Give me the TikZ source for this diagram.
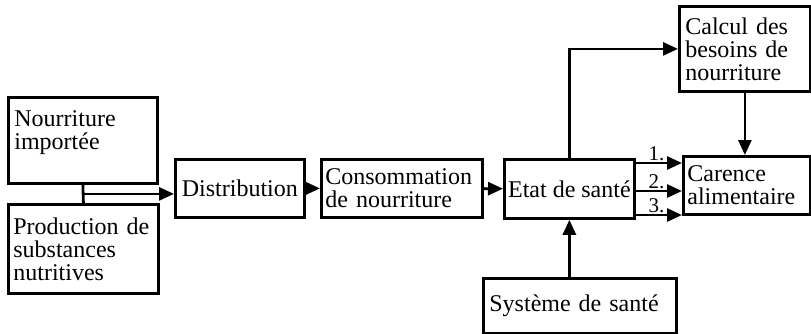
\documentclass[tikz,border=0pt]{standalone}
\usepackage{fontspec}
\setmainfont{Liberation Serif}
\usetikzlibrary{arrows.meta, calc}

\begin{document}
\begin{tikzpicture}[x=1pt, y=1pt,
        box/.style={draw, line width=1.4pt, align=left, anchor=north west,
            inner xsep=3pt, inner ysep=2pt, font=\fontsize{12}{11.5}\selectfont},
        arr/.style={line width=1.4pt, -{Triangle[length=7.5pt, width=6.5pt]}},
        num/.style={above, inner sep=0.5pt, font=\fontsize{10.5}{10.5}\selectfont}]
    \useasboundingbox (0,0) rectangle (405.5,-166.5);

    \node[box, text width=68.5pt, minimum height=43pt, text depth=22pt] (imp) at (3.5,-48) {Nourriture\\importée};
    \node[box, text width=70pt, inner xsep=2.5pt, minimum height=44.5pt] (prod) at (3.5,-101.5) {Production de\\substances\\nutritives};
    \node[box, inner xsep=1pt, minimum width=64.5pt, minimum height=29pt] (dist) at (87,-79) {Distribution};
    \node[box, text width=76.5pt, inner xsep=2pt, minimum height=29pt] (cons) at (160,-79) {Consommation\\de nourriture};
    \node[box, inner xsep=1pt, minimum width=65pt, minimum height=29.5pt] (etat) at (251.5,-79) {Etat de santé};
    \node[box, text width=90.5pt, minimum height=27.5pt] (sys) at (241,-138.5) {Système de santé};
    \node[box, text width=59.5pt, minimum height=42.5pt] (calc) at (339,-2.5) {Calcul des\\besoins de\\nourriture};
    \node[box, text width=59.5pt, inner xsep=2pt, minimum height=29pt] (car) at (341,-77.5) {Carence\\alimentaire};

    % les deux sources se rejoignent avant la distribution
    \coordinate (j) at ($(imp.south)!0.5!(prod.north)$);
    \draw[line width=1.4pt] (imp.south) -- (prod.north);
    \draw[arr] (j) -- (j -| dist.west);

    \draw[arr] (dist) -- (cons);
    \draw[arr] (cons) -- (etat);
    \draw[arr] (etat.north) |- (calc.west);
    \draw[arr] (calc.south) -- (calc.south |- car.north);
    \draw[arr] (etat.south |- sys.north) -- (etat.south);

    \draw[arr] (etat.east |- 0,-81.5) -- (car.west |- 0,-81.5) node[num, pos=0.45] {1.};
    \draw[arr] (etat.east |- 0,-95.5) -- (car.west |- 0,-95.5) node[num, pos=0.45] {2.};
    \draw[arr] (etat.east |- 0,-107.5) -- (car.west |- 0,-107.5) node[num, pos=0.45] {3.};
\end{tikzpicture}
\end{document}
